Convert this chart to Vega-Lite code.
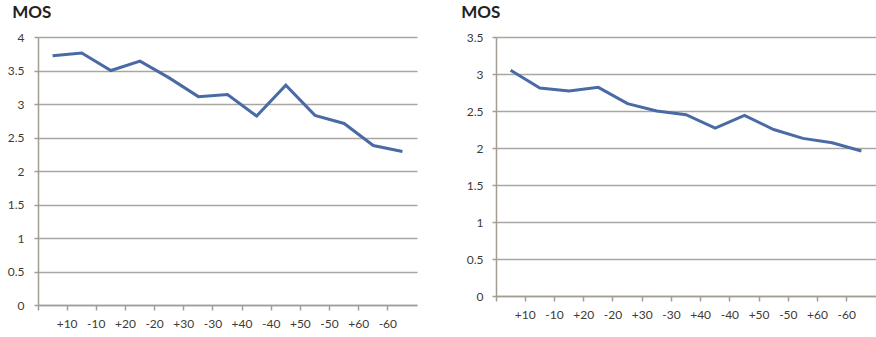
{
  "$schema": "https://vega.github.io/schema/vega-lite/v6.json",
  "background": "white",
  "padding": {"left": 7, "top": 4, "right": 1, "bottom": 4},
  "spacing": 44,
  "config": {
    "font": "Lato",
    "view": {"stroke": null},
    "axis": {
      "labelFont": "Lato",
      "labelFontSize": 12,
      "labelColor": "#3f3a35",
      "domainColor": "#a39d96",
      "tickColor": "#a39d96",
      "gridColor": "#a9a6a2",
      "gridWidth": 1.5,
      "domainWidth": 1.5,
      "tickWidth": 1.5,
      "title": null
    },
    "title": {"font": "Lato", "fontSize": 17, "fontWeight": "bold", "color": "#222222", "anchor": "start", "frame": "bounds", "offset": 9}
  },
  "datasets": {
    "left": [
      {"shift": "0", "mos": 3.72},
      {"shift": "+10", "mos": 3.76},
      {"shift": "-10", "mos": 3.5},
      {"shift": "+20", "mos": 3.64},
      {"shift": "-20", "mos": 3.39},
      {"shift": "+30", "mos": 3.11},
      {"shift": "-30", "mos": 3.14},
      {"shift": "+40", "mos": 2.82},
      {"shift": "-40", "mos": 3.28},
      {"shift": "+50", "mos": 2.83},
      {"shift": "-50", "mos": 2.71},
      {"shift": "+60", "mos": 2.38},
      {"shift": "-60", "mos": 2.29}
    ],
    "right": [
      {"shift": "0", "mos": 3.05},
      {"shift": "+10", "mos": 2.81},
      {"shift": "-10", "mos": 2.77},
      {"shift": "+20", "mos": 2.82},
      {"shift": "-20", "mos": 2.6},
      {"shift": "+30", "mos": 2.5},
      {"shift": "-30", "mos": 2.45},
      {"shift": "+40", "mos": 2.27},
      {"shift": "-40", "mos": 2.44},
      {"shift": "+50", "mos": 2.25},
      {"shift": "-50", "mos": 2.13},
      {"shift": "+60", "mos": 2.07},
      {"shift": "-60", "mos": 1.96}
    ]
  },
  "hconcat": [
    {
      "width": 379,
      "height": 268,
      "title": {"text": "MOS", "dx": 5},
      "data": {"name": "left"},
      "mark": {"type": "line", "color": "#4a6aa6", "strokeWidth": 3},
      "encoding": {
        "x": {
          "field": "shift",
          "type": "ordinal",
          "sort": null,
          "scale": {"type": "band", "paddingInner": 0, "paddingOuter": 0},
          "axis": {"bandPosition": 0, "labelAngle": 0, "labelOffset": -14.6, "labelExpr": "datum.value == '0' ? '' : datum.value", "tickSize": 5, "labelPadding": 8, "grid": false}
        },
        "y": {
          "field": "mos",
          "type": "quantitative",
          "scale": {"domain": [0, 4], "nice": false},
          "axis": {"values": [0, 0.5, 1, 1.5, 2, 2.5, 3, 3.5, 4], "format": "~g", "grid": true, "tickSize": 4, "labelPadding": 10}
        }
      }
    },
    {
      "width": 380,
      "height": 259,
      "title": {"text": "MOS", "dx": -5},
      "data": {"name": "right"},
      "mark": {"type": "line", "color": "#4a6aa6", "strokeWidth": 3},
      "encoding": {
        "x": {
          "field": "shift",
          "type": "ordinal",
          "sort": null,
          "scale": {"type": "band", "paddingInner": 0, "paddingOuter": 0},
          "axis": {"bandPosition": 0, "labelAngle": 0, "labelOffset": -14.6, "labelExpr": "datum.value == '0' ? '' : datum.value", "tickSize": 5, "labelPadding": 8, "grid": false}
        },
        "y": {
          "field": "mos",
          "type": "quantitative",
          "scale": {"domain": [0, 3.5], "nice": false},
          "axis": {"values": [0, 0.5, 1, 1.5, 2, 2.5, 3, 3.5], "format": "~g", "grid": true, "tickSize": 4, "labelPadding": 9}
        }
      }
    }
  ]
}
